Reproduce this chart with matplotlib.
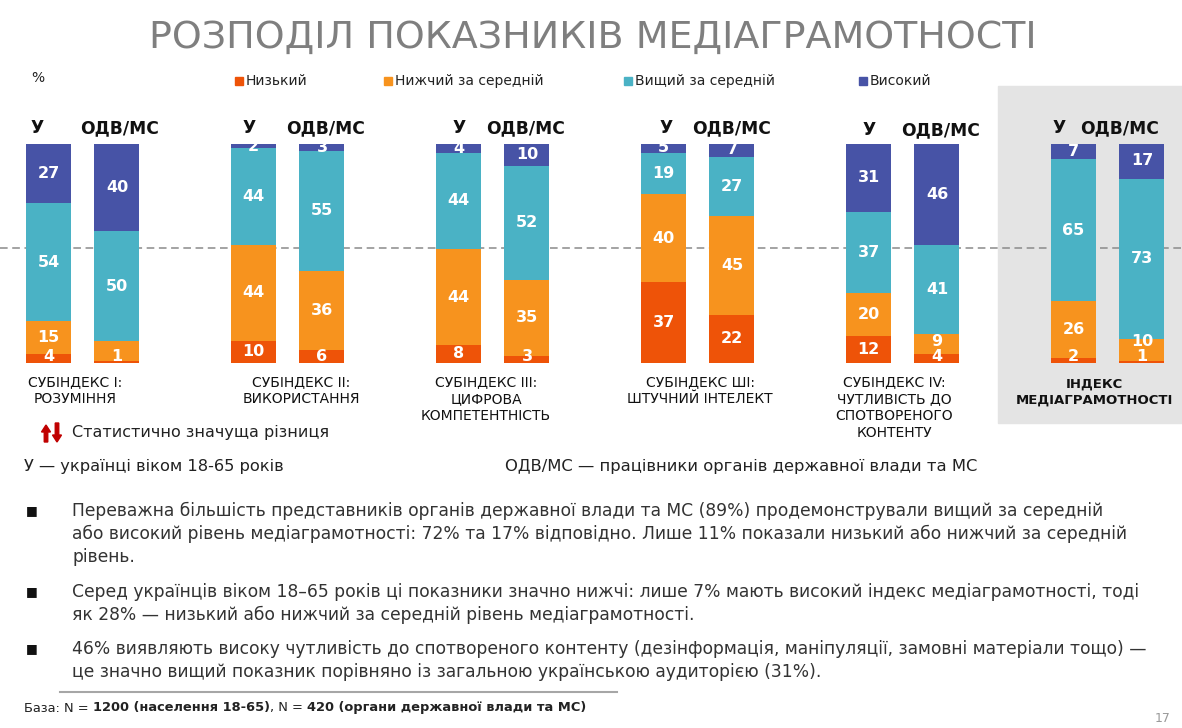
"""
Розподіл показників медіаграмотності: stacked 100% bars, U vs ODV/MS,
recreated as a single slide-like figure.
"""
import numpy as np
import matplotlib
matplotlib.use("Agg")
import matplotlib.pyplot as plt
from matplotlib.patches import Rectangle, FancyArrow
from matplotlib.lines import Line2D

W, H = 1182, 728

levels = ["Низький", "Нижчий за середній", "Вищий за середній", "Високий"]
colors = ["#EE5308", "#F7931E", "#4AB2C5", "#4753A6"]

groups = [
    "СУБІНДЕКС І:\nРОЗУМІННЯ",
    "СУБІНДЕКС ІІ:\nВИКОРИСТАННЯ",
    "СУБІНДЕКС ІІІ:\nЦИФРОВА\nКОМПЕТЕНТНІСТЬ",
    "СУБІНДЕКС ШІ:\nШТУЧНИЙ ІНТЕЛЕКТ",
    "СУБІНДЕКС IV:\nЧУТЛИВІСТЬ ДО\nСПОТВОРЕНОГО\nКОНТЕНТУ",
    "ІНДЕКС\nМЕДІАГРАМОТНОСТІ",
]
bar_names = ["У", "ОДВ/МС"]

# У — українці 18-65
u_low = [4, 10, 8, 37, 12, 2]
u_lowmid = [15, 44, 44, 40, 20, 26]
u_highmid = [54, 44, 44, 19, 37, 65]
u_high = [27, 2, 4, 5, 31, 7]

# ОДВ/МС
o_low = [1, 6, 3, 22, 4, 1]
o_lowmid = [9, 36, 35, 45, 9, 10]
o_highmid = [50, 55, 52, 27, 41, 73]
o_high = [40, 3, 10, 7, 46, 17]
o_lowmid_shown = [False, True, True, True, True, True]

ref_line = 52.6  # dashed guide

bullets = [
    ["Переважна більшість представників органів державної влади та МС (89%) продемонстрували вищий за середній",
     "або високий рівень медіаграмотності: 72% та 17% відповідно. Лише 11% показали низький або нижчий за середній",
     "рівень."],
    ["Серед українців віком 18–65 років ці показники значно нижчі: лише 7% мають високий індекс медіаграмотності, тоді",
     "як 28% — низький або нижчий за середній рівень медіаграмотності."],
    ["46% виявляють високу чутливість до спотвореного контенту (дезінформація, маніпуляції, замовні матеріали тощо) —",
     "це значно вищий показник порівняно із загальною українською аудиторією (31%)."],
]
footer_parts = [("База: N = ", "normal"), ("1200 (населення 18-65)", "bold"),
                (", N = ", "normal"), ("420 (органи державної влади та МС)", "bold")]


def fx(px):
    return px / W


def fy(py):
    return 1 - py / H


def main():
    plt.rcParams["font.family"] = ["DejaVu Sans"]
    fig = plt.figure(figsize=(W / 100, H / 100), dpi=100)

    # grey panel behind the overall index
    fig.patches.append(Rectangle((fx(998), fy(423)), fx(W - 998), (423 - 86) / H,
                                 transform=fig.transFigure, color="#e4e4e4", zorder=-1))

    # title
    fig.text(fx(593), fy(38), "РОЗПОДІЛ ПОКАЗНИКІВ МЕДІАГРАМОТНОСТІ", ha="center", va="center",
             fontsize=27.4, color="#7f7f7f")

    # legend
    fig.text(fx(38), fy(78), "%", ha="center", va="center", fontsize=10, color="#222222")
    leg_x = [235, 384, 624, 859]
    for k, lab in enumerate(levels):
        fig.patches.append(Rectangle((fx(leg_x[k]), fy(85)), 8 / W, 8 / H,
                                     transform=fig.transFigure, color=colors[k]))
        fig.text(fx(leg_x[k] + 11), fy(81), lab, ha="left", va="center", fontsize=10, color="#222222")

    # bar axes: y 0 at px 362.7, 100 at px 144; 1 x-unit = 205 px
    ax = fig.add_axes([0, fy(362.7), 1, 218.7 / H])
    ax.patch.set_visible(False)
    ax.set_xlim(-82.75 / 205, (W - 82.75) / 205)
    ax.set_ylim(0, 100)
    ax.axis("off")

    x = np.arange(len(groups))
    d, width = 0.167, 0.2195
    u_vals = [u_low, u_lowmid, u_highmid, u_high]
    o_vals = [o_low, o_lowmid, o_highmid, o_high]

    ax.axhline(ref_line, color="#8a8a8a", lw=1.1, ls=(0, (5, 3)), zorder=0)

    for series, off in [(u_vals, -d), (o_vals, d)]:
        bottom = np.zeros(len(groups))
        last_y = np.full(len(groups), -10.0)
        for k in range(4):
            vals = np.array(series[k], dtype=float)
            ax.bar(x + off, vals, width, bottom=bottom, color=colors[k], lw=0, zorder=2)
            for i, v in enumerate(vals):
                if series is o_vals and k == 1 and not o_lowmid_shown[i]:
                    continue
                yc = bottom[i] + v / 2
                yc = max(yc, 3.0, last_y[i] + 6.5)
                last_y[i] = yc
                ax.text(x[i] + off, min(yc, 99), f"{int(v)}", ha="center", va="center",
                        color="white", fontsize=11.5, fontweight="bold", zorder=3, clip_on=False)
            bottom += vals

    # column headers
    head_x = {"У": [37, 249, 459, 666, 869, 1059], "ОДВ/МС": [120, 326, 526, 732, 941, 1120]}
    head_y = [128, 128, 128, 128, 130, 128]
    for name in bar_names:
        for i in range(len(groups)):
            fig.text(fx(head_x[name][i]), fy(head_y[i]), name, ha="center", va="center",
                     fontsize=12.3, fontweight="bold", color="#111111")

    # category labels under bars
    label_x = [75, 301, 486, 700, 894, 1094]
    for i, g in enumerate(groups):
        last = i == len(groups) - 1
        fig.text(fx(label_x[i]), fy(375 if not last else 378), g, ha="center", va="top",
                 fontsize=9.5 if last else 10, fontweight="bold" if last else "normal",
                 linespacing=1.28, color="#111111")

    # significance note: red up/down arrows
    tr = fig.dpi_scale_trans
    fig.patches.append(FancyArrow(0.46, (H - 442) / 100, 0, 0.17, width=0.035, head_width=0.09,
                                  head_length=0.07, length_includes_head=True, color="#C00000",
                                  transform=tr))
    fig.patches.append(FancyArrow(0.57, (H - 423) / 100, 0, -0.19, width=0.035, head_width=0.09,
                                  head_length=0.07, length_includes_head=True, color="#C00000",
                                  transform=tr))
    fig.text(fx(72), fy(432), "Статистично значуща різниця", ha="left", va="center",
             fontsize=11.5, color="#222222")

    fig.text(fx(24), fy(466), "У — українці віком 18-65 років", ha="left", va="center",
             fontsize=11.7, color="#222222")
    fig.text(fx(505), fy(466), "ОДВ/МС — працівники органів державної влади та МС", ha="left",
             va="center", fontsize=11.8, color="#222222")

    # bullets
    bullet_y = [511, 592, 649]
    for b, lines in enumerate(bullets):
        fig.text(fx(32), fy(bullet_y[b]), "■", ha="center", va="center", fontsize=9, color="#111111")
        for j, line in enumerate(lines):
            fig.text(fx(72), fy(bullet_y[b] + 23 * j), line, ha="left", va="center",
                     fontsize=12.3, color="#333333")

    # footer rule and base note with bold runs
    fig.add_artist(Line2D([fx(60), fx(617)], [fy(692), fy(692)], transform=fig.transFigure,
                          color="#a6a6a6", lw=1.5))
    fig.canvas.draw()
    r = fig.canvas.get_renderer()
    xcur = 24
    for s, wgt in footer_parts:
        t = fig.text(fx(xcur), fy(708), s, ha="left", va="center", fontsize=9.4,
                     fontweight=wgt, color="#222222")
        xcur = t.get_window_extent(r).x1

    fig.text(fx(1163), fy(718), "17", ha="center", va="center", fontsize=9, color="#9a9a9a")

    fig.savefig("out.png", dpi=100)


if __name__ == "__main__":
    main()
